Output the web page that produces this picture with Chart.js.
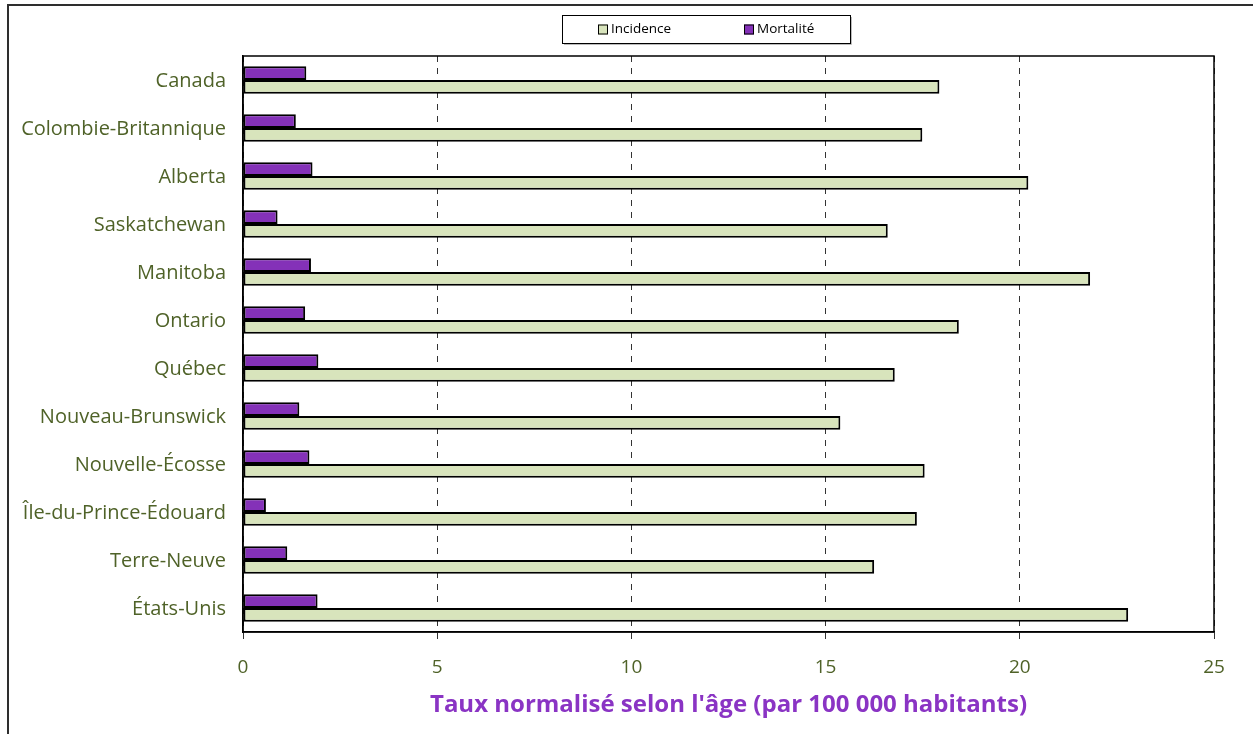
<!DOCTYPE html>
<html lang="fr">
<head>
<meta charset="utf-8">
<title>Taux normalisés selon l'âge</title>
<script src="https://cdn.jsdelivr.net/npm/chart.js@4.4.1/dist/chart.umd.min.js"></script>
<style>
  html, body { margin: 0; padding: 0; background: #ffffff; }
  #wrap { position: relative; width: 1253px; height: 734px; }
</style>
</head>
<body>
<div id="wrap"><canvas id="chart" width="1253" height="734"></canvas></div>
<script>
// Provinces / pays
const categories = [
  'Canada', 'Colombie-Britannique', 'Alberta', 'Saskatchewan', 'Manitoba',
  'Ontario', 'Québec', 'Nouveau-Brunswick', 'Nouvelle-Écosse',
  'Île-du-Prince-Édouard', 'Terre-Neuve', 'États-Unis'
];
// Taux pour 100 000 habitants
const incidence = [17.93, 17.49, 20.22, 16.60, 21.81, 18.43, 16.78, 15.38, 17.55, 17.35, 16.25, 22.79];
const mortalite = [1.63, 1.36, 1.79, 0.89, 1.75, 1.60, 1.94, 1.45, 1.71, 0.59, 1.14, 1.92];
const xTicks = [0, 5, 10, 15, 20, 25];
const axisTitle = "Taux normalisé selon l'âge (par 100 000 habitants)";

const FONT = "'Open Sans', Lato, sans-serif";
const GREEN_TEXT = '#4f6228';

// outer frame (top and left edges) of the figure
const framePlugin = {
  id: 'frame',
  beforeDraw(chart) {
    const ctx = chart.ctx;
    ctx.save();
    ctx.strokeStyle = '#2e2e2e';
    ctx.lineWidth = 2;
    ctx.beginPath();
    ctx.moveTo(8, 734);
    ctx.lineTo(8, 5);
    ctx.lineTo(1253, 5);
    ctx.stroke();
    ctx.restore();
  },
  afterDatasetsDraw(chart) {
    // box around the plotting area
    const a = chart.chartArea;
    const ctx = chart.ctx;
    ctx.save();
    ctx.strokeStyle = '#000';
    ctx.lineWidth = 1.5;
    ctx.strokeRect(a.left, a.top, a.right - a.left, a.bottom - a.top);
    ctx.restore();
  }
};

// boxed legend drawn above the plot, Incidence first
const boxLegend = {
  id: 'boxLegend',
  afterDraw(chart) {
    const ctx = chart.ctx;
    const box = { x: 562, y: 15, w: 288, h: 28 };
    ctx.save();
    ctx.fillStyle = '#fff';
    ctx.fillRect(box.x, box.y, box.w, box.h);
    // faint drop shadow
    ctx.strokeStyle = '#bbb';
    ctx.lineWidth = 1;
    ctx.beginPath();
    ctx.moveTo(box.x + 2, box.y + box.h + 1.5);
    ctx.lineTo(box.x + box.w + 1.5, box.y + box.h + 1.5);
    ctx.lineTo(box.x + box.w + 1.5, box.y + 2);
    ctx.stroke();
    ctx.strokeStyle = '#000';
    ctx.strokeRect(box.x + 0.5, box.y + 0.5, box.w, box.h);
    const items = chart.data.datasets.slice().reverse();
    const starts = [598, 744];
    ctx.font = '13.5px ' + FONT;
    ctx.textBaseline = 'middle';
    items.forEach((ds, i) => {
      const sx = starts[i];
      const cy = box.y + box.h / 2 + 0.5;
      ctx.fillStyle = ds.backgroundColor;
      ctx.fillRect(sx, cy - 5, 10, 10);
      ctx.strokeStyle = '#000';
      ctx.lineWidth = 1;
      ctx.strokeRect(sx + 0.5, cy - 4.5, 9, 9);
      ctx.fillStyle = '#000';
      ctx.fillText(ds.label, sx + 13, cy);
    });
    ctx.restore();
  }
};

new Chart(document.getElementById('chart'), {
  type: 'bar',
  data: {
    labels: categories,
    datasets: [
      {
        label: 'Mortalité',
        data: mortalite,
        backgroundColor: '#8431b8',
        borderColor: '#000',
        borderWidth: 2,
        borderSkipped: false,
        categoryPercentage: 0.57,
        barPercentage: 1.0
      },
      {
        label: 'Incidence',
        data: incidence,
        backgroundColor: '#d8e4bc',
        borderColor: '#000',
        borderWidth: 2,
        borderSkipped: false,
        categoryPercentage: 0.57,
        barPercentage: 1.0
      }
    ]
  },
  options: {
    indexAxis: 'y',
    responsive: false,
    animation: false,
    devicePixelRatio: 1,
    layout: { padding: { top: 56, right: 39, left: 0, bottom: 0 } },
    plugins: {
      legend: { display: false },
      tooltip: { enabled: false }
    },
    scales: {
      x: {
        min: 0,
        max: 25,
        afterBuildTicks(scale) {
          scale.ticks = xTicks.map(v => ({ value: v }));
        },
        afterFit(scale) { scale.height = 102; },
        grid: {
          display: true,
          color: '#333',
          lineWidth: 1,
          drawTicks: true,
          tickLength: 7,
          tickColor: '#333',
          tickBorderDash: []
        },
        border: { display: true, color: '#000', width: 1.5, dash: [6, 6] },
        ticks: {
          color: GREEN_TEXT,
          font: { family: FONT, size: 19 },
          padding: 17
        },
        title: {
          display: true,
          text: axisTitle,
          color: '#8a34c4',
          font: { family: FONT, size: 24, weight: 'bold' },
          padding: { top: 0, bottom: 14 }
        }
      },
      y: {
        afterFit(scale) { scale.width = 243; },
        grid: { display: false, drawTicks: false },
        border: { display: true, color: '#000', width: 1.5 },
        ticks: {
          color: GREEN_TEXT,
          font: { family: FONT, size: 20 },
          padding: 17,
          labelOffset: 1.5
        }
      }
    }
  },
  plugins: [framePlugin, boxLegend]
});
</script>
</body>
</html>
